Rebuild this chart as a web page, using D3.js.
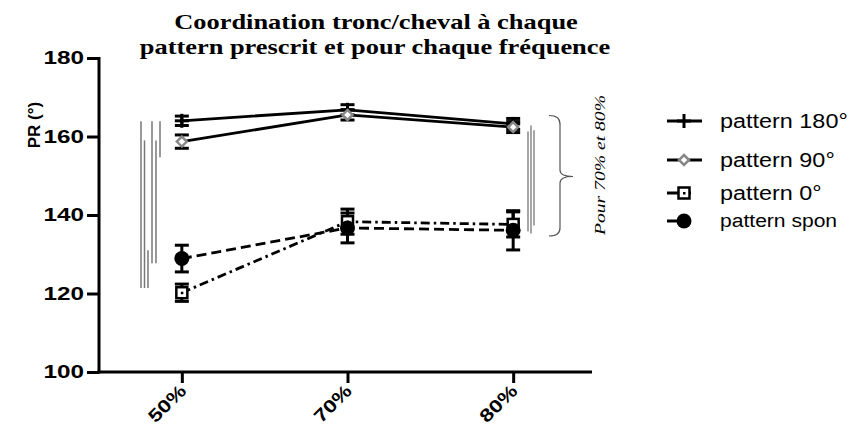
<!DOCTYPE html>
<html><head><meta charset="utf-8">
<script src="https://cdn.jsdelivr.net/npm/d3@7"></script>
<style>body{margin:0;background:#fff}</style>
</head><body>
<svg id="c" width="859" height="432"></svg>
<script>
const categories = ["50%", "70%", "80%"];
const seriesNames = ["pattern 180°", "pattern 90°", "pattern 0°", "pattern spon"];
const p180 = [164.0, 166.8, 163.2];
const p180Err = [1.2, 1.3, 1.4];
const p90 = [158.7, 165.5, 162.4];
const p90Err = [1.7, 1.3, 1.4];
const p0 = [120.2, 138.3, 137.6];
const p0Err = [2.2, 3.2, 3.2];
const pSpon = [128.9, 136.7, 136.1];
const pSponErr = [3.4, 3.8, 5.0];
const yTicks = [100, 120, 140, 160, 180];
// significance lines (data units): [y1, y2]
const leftSig = [[163.9, 121.4], [159.0, 121.4], [131.0, 121.4], [163.9, 127.7], [159.0, 127.7], [163.9, 154.7]];
const rightSig = [[161.3, 135.8], [162.8, 135.3], [161.6, 137.3]];

const svg = d3.select("#c");
const x = d3.scalePoint().domain(categories).range([99, 596]).padding(0.5);
const y = d3.scaleLinear().domain([100, 180]).range([372, 58]);

function stretch(sel, f) {
  sel.each(function () {
    const w = this.getComputedTextLength();
    d3.select(this).attr("textLength", w * f).attr("lengthAdjust", "spacingAndGlyphs");
  });
}

// title
const title = svg.append("text").attr("x", 375).attr("text-anchor", "middle")
  .attr("font-family", "Liberation Serif, Times New Roman, serif").attr("font-weight", "bold").attr("font-size", 22);
title.append("tspan").attr("x", 376).attr("y", 29).text("Coordination tronc/cheval à chaque");
title.append("tspan").attr("x", 375).attr("y", 54).text("pattern prescrit et pour chaque fréquence");
stretch(title.selectAll("tspan"), 1.2);

// axes
const yAxis = svg.append("g").attr("transform", "translate(99,0)")
  .call(d3.axisLeft(y).tickValues(yTicks).tickSize(12).tickSizeOuter(0).tickPadding(3));
const xAxis = svg.append("g").attr("transform", "translate(0,372)")
  .call(d3.axisBottom(x).tickSize(11).tickSizeOuter(0));
[yAxis, xAxis].forEach(g => {
  g.selectAll("path, line").attr("stroke", "#000").attr("stroke-width", 3);
  g.selectAll("text").attr("font-family", "Liberation Sans, Arial, sans-serif").attr("font-weight", "bold").attr("fill", "#000");
});
yAxis.selectAll(".tick text").attr("font-size", 18);
xAxis.selectAll(".tick text").attr("font-size", 18);
yAxis.select(".domain").attr("d", "M0,57V373.5");
xAxis.select(".domain").attr("d", "M97.5,0H592");
xAxis.selectAll(".tick text").attr("text-anchor", "end").attr("dy", null).attr("y", null)
  .attr("transform", "translate(5,20) rotate(-45)");
stretch(yAxis.selectAll(".tick text"), 1.35);
stretch(xAxis.selectAll(".tick text"), 1.25);

svg.append("text").attr("transform", "translate(40,125) rotate(-90)").attr("text-anchor", "middle")
  .attr("font-family", "Liberation Sans, Arial, sans-serif").attr("font-weight", "bold").attr("font-size", 17)
  .text("PR (°)");

// significance lines
const leftX = [141, 144.5, 148, 152, 156, 160];
leftSig.forEach((s, i) => svg.append("line").attr("x1", leftX[i]).attr("x2", leftX[i])
  .attr("y1", y(s[0])).attr("y2", y(s[1])).attr("stroke", "#777").attr("stroke-width", 1.5));
const rightX = [528, 531, 534];
rightSig.forEach((s, i) => svg.append("line").attr("x1", rightX[i]).attr("x2", rightX[i])
  .attr("y1", y(s[0])).attr("y2", y(s[1])).attr("stroke", "#777").attr("stroke-width", 1.3));
// brace
svg.append("path").attr("d", "M549,115.5 Q560,115.5 560,124 V170 Q560,176.5 573,176.5 Q560,176.5 560,183 V228 Q560,236 549,236")
  .attr("fill", "none").attr("stroke", "#555").attr("stroke-width", 1.2);
svg.append("text").attr("transform", "translate(605,165) rotate(-90)").attr("text-anchor", "middle")
  .attr("font-family", "Liberation Serif, Times New Roman, serif").attr("font-style", "italic").attr("font-size", 15)
  .attr("textLength", 140).attr("lengthAdjust", "spacingAndGlyphs")
  .text("Pour 70% et 80%");

const series = [
  {name: seriesNames[0], v: p180, e: p180Err, dash: null, marker: "plus", color: "#000"},
  {name: seriesNames[1], v: p90, e: p90Err, dash: null, marker: "diamond", color: "#888"},
  {name: seriesNames[2], v: p0, e: p0Err, dash: "9,4,2.5,4", marker: "square", color: "#000"},
  {name: seriesNames[3], v: pSpon, e: pSponErr, dash: "10,5", marker: "circle", color: "#000"}
];

function drawMarker(g, m, cx, cy, color) {
  if (m === "plus") {
    g.append("line").attr("x1", cx - 7).attr("x2", cx + 7).attr("y1", cy).attr("y2", cy).attr("stroke", "#000").attr("stroke-width", 3);
    g.append("line").attr("x1", cx).attr("x2", cx).attr("y1", cy - 7).attr("y2", cy + 7).attr("stroke", "#000").attr("stroke-width", 3);
  } else if (m === "diamond") {
    g.append("path").attr("d", `M${cx},${cy - 5}L${cx + 5},${cy}L${cx},${cy + 5}L${cx - 5},${cy}Z`)
      .attr("fill", "#fff").attr("stroke", color).attr("stroke-width", 2.5);
  } else if (m === "square") {
    g.append("rect").attr("x", cx - 5.5).attr("y", cy - 5.5).attr("width", 11).attr("height", 11)
      .attr("fill", "#fff").attr("stroke", "#000").attr("stroke-width", 2.5);
    g.append("rect").attr("x", cx - 1).attr("y", cy - 1).attr("width", 2.5).attr("height", 2.5).attr("fill", "#000");
  } else {
    g.append("circle").attr("cx", cx).attr("cy", cy).attr("r", 7.5).attr("fill", "#000");
  }
}

const line = d3.line().x((d, i) => x(categories[i])).y(d => y(d));
series.forEach(s => {
  svg.append("path").datum(s.v).attr("d", line).attr("fill", "none").attr("stroke", "#000")
    .attr("stroke-width", 2.8).attr("stroke-dasharray", s.dash);
});
series.forEach(s => {
  const g = svg.append("g");
  s.v.forEach((v, i) => {
    const cx = x(categories[i]);
    const lo = y(v - s.e[i]), hi = y(v + s.e[i]);
    g.append("line").attr("x1", cx).attr("x2", cx).attr("y1", lo).attr("y2", hi).attr("stroke", "#000").attr("stroke-width", 3);
    [lo, hi].forEach(yy => g.append("line").attr("x1", cx - 7).attr("x2", cx + 7).attr("y1", yy).attr("y2", yy)
      .attr("stroke", "#000").attr("stroke-width", 3));
  });
});
series.forEach(s => {
  const g = svg.append("g");
  s.v.forEach((v, i) => drawMarker(g, s.marker, x(categories[i]), y(v), s.color));
});

// legend
const legY = [121, 160, 193, 221];
series.forEach((s, i) => {
  const g = svg.append("g");
  g.append("line").attr("x1", 667).attr("x2", 702).attr("y1", legY[i]).attr("y2", legY[i])
    .attr("stroke", "#000").attr("stroke-width", 2.8)
    .attr("stroke-dasharray", s.dash ? "12,6,6" : null);
  drawMarker(g, s.marker, 684, legY[i], s.color);
  const t = g.append("text").attr("x", 720).attr("y", legY[i]).attr("dy", "0.35em")
    .attr("font-family", "Liberation Sans, Arial, sans-serif").attr("font-size", i === 3 ? 18 : 20)
    .text(s.name);
  stretch(t, 1.17);
});
</script>
</body></html>
